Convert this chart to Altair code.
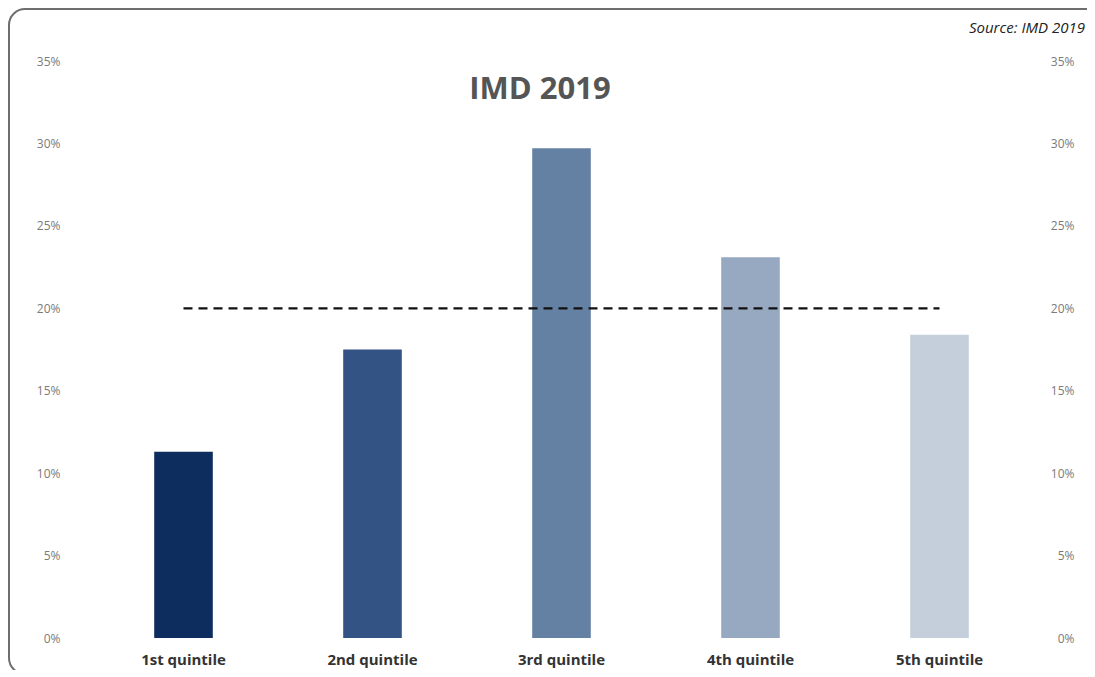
import altair as alt
import pandas as pd

categories = ["1st quintile", "2nd quintile", "3rd quintile", "4th quintile", "5th quintile"]
shares = [0.113, 0.175, 0.297, 0.231, 0.184]
benchmark = [0.20, 0.20, 0.20, 0.20, 0.20]
bar_colors = ["#0c2d5e", "#325383", "#6480a3", "#97a9c1", "#c4cfdb"]
y_ticks = [0, 0.05, 0.10, 0.15, 0.20, 0.25, 0.30, 0.35]

df = pd.DataFrame({"quintile": categories, "share": shares, "benchmark": benchmark})

W, H = 945, 577
PL, PT = 81, 53
PR, PB = 53, 32

x_enc = alt.X("quintile:N", sort=categories, title=None,
              scale=alt.Scale(paddingInner=0.69, paddingOuter=0.345),
              axis=alt.Axis(labelAngle=0, labelFont="Open Sans", labelFontWeight="bold",
                            labelFontSize=15, labelColor="#333333", labelPadding=14,
                            ticks=False, domain=False, grid=False))

yscale = alt.Scale(domain=[0, 0.35], nice=False, zero=True)

bars = alt.Chart(df).mark_bar().encode(
    x=x_enc,
    y=alt.Y("share:Q", scale=yscale, title=None,
            axis=alt.Axis(orient="left", values=y_ticks, format=".0%", ticks=False,
                          domain=False, grid=False, labelFont="Open Sans",
                          labelFontSize=12, labelColor="#7a7a7a", labelPadding=29)),
    color=alt.Color("quintile:N", sort=categories, legend=None,
                    scale=alt.Scale(domain=categories, range=bar_colors)),
)

line = alt.Chart(df).mark_line(color="#111111", strokeWidth=2.2, strokeDash=[9, 6]).encode(
    x=alt.X("quintile:N", sort=categories),
    y=alt.Y("benchmark:Q", scale=yscale, title=None,
            axis=alt.Axis(orient="right", values=y_ticks, format=".0%", ticks=False,
                          domain=False, grid=False, labelFont="Open Sans",
                          labelFontSize=12, labelColor="#7a7a7a", labelPadding=40,
                          labelAlign="right")),
)

border = alt.Chart(alt.Data(values=[{"k": 1}])).mark_rect(
    fill=None, stroke="#6e6e6e", strokeWidth=2, cornerRadius=16
).encode(
    x=alt.value(-80), x2=alt.value(W + 120),
    y=alt.value(-52), y2=alt.value(H + 36),
)

source = alt.Chart(alt.Data(values=[{"t": "Source: IMD 2019"}])).mark_text(
    font="Open Sans", fontStyle="italic", fontSize=15, color="#222222", align="right",
    baseline="middle"
).encode(
    x=alt.value(W + 51), y=alt.value(-33), text="t:N"
)

title = alt.Chart(alt.Data(values=[{"t": "IMD 2019"}])).mark_text(
    font="Open Sans", fontWeight="bold", fontSize=31, color="#555555", align="center",
    baseline="middle"
).encode(
    x=alt.value(451), y=alt.value(29), text="t:N"
)

chart = alt.layer(border, bars, line, source, title).resolve_scale(y="independent").properties(
    width=W, height=H,
    padding={"left": PL, "top": PT, "right": PR, "bottom": PB},
    autosize=alt.AutoSizeParams(type="none"),
).configure_view(stroke=None)

chart.save("out.html", embed_options={"renderer": "svg", "actions": False})
